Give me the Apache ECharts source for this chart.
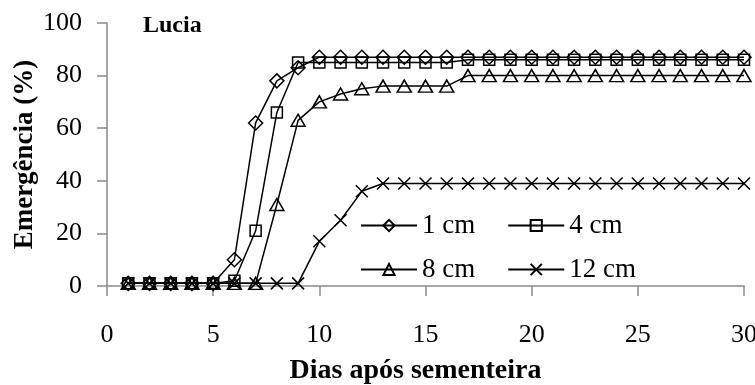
<!DOCTYPE html>
<html>
<head>
<meta charset="utf-8">
<script src="https://cdn.jsdelivr.net/npm/echarts@6/dist/echarts.min.js"></script>
<style>
  html, body { margin: 0; padding: 0; background: #fff; }
  #chart { width: 755px; height: 385px; }
</style>
</head>
<body>
<div id="chart"></div>
<script>
// Days after sowing
const days = [1,2,3,4,5,6,7,8,9,10,11,12,13,14,15,16,17,18,19,20,21,22,23,24,25,26,27,28,29,30];

// Cumulative emergence (%) by sowing depth
const depth1cm  = [1,1,1,1,1,10,62,78,83,87,87,87,87,87,87,87,87,87,87,87,87,87,87,87,87,87,87,87,87,87];
const depth4cm  = [1,1,1,1,1,2,21,66,85,85,85,85,85,85,85,85,86,86,86,86,86,86,86,86,86,86,86,86,86,86];
const depth8cm  = [1,1,1,1,1,1,1,31,63,70,73,75,76,76,76,76,80,80,80,80,80,80,80,80,80,80,80,80,80,80];
const depth12cm = [1,1,1,1,1,1,1,1,1,17,25,36,39,39,39,39,39,39,39,39,39,39,39,39,39,39,39,39,39,39];

const seriesNames = ['1 cm', '4 cm', '8 cm', '12 cm'];
const xTicks = [0, 5, 10, 15, 20, 25, 30];
const yTicks = [0, 20, 40, 60, 80, 100];

const FONT = '"Liberation Serif", "Times New Roman", serif';
const AXIS_GRAY = '#8a8a8a';

const pair = (ys) => days.map((d, i) => [d, ys[i]]);

const markerStyle = {
  color: 'rgba(255,255,255,0)',
  borderColor: '#000',
  borderWidth: 1.5
};

const crossPath = 'path://M0,0L10,10M10,0L0,10';

function makeSeries(name, values, symbol, size) {
  return {
    name: name,
    type: 'line',
    data: pair(values),
    symbol: symbol,
    symbolSize: size,
    showAllSymbol: true,
    lineStyle: { color: '#000', width: 1.5 },
    itemStyle: Object.assign({}, markerStyle),
    emphasis: { disabled: true },
    animation: false
  };
}

const chart = echarts.init(document.getElementById('chart'), null, { renderer: 'canvas' });

const legendText = { fontFamily: FONT, fontSize: 27, color: '#000' };

chart.setOption({
  backgroundColor: '#fff',
  animation: false,
  title: {
    text: 'Lucia',
    left: 138,
    top: 9,
    textStyle: { fontFamily: FONT, fontWeight: 'bold', fontSize: 24, color: '#000' }
  },
  grid: { left: 107, right: 11, top: 23, bottom: 99, containLabel: false, outerBoundsMode: 'none' },
  legend: [
    {
      data: [seriesNames[0], seriesNames[1]],
      left: 355, top: 207,
      orient: 'horizontal',
      itemWidth: 56, itemHeight: 14, itemGap: 32,
      textStyle: legendText,
      selectedMode: false
    },
    {
      data: [seriesNames[2], seriesNames[3]],
      left: 355, top: 251,
      orient: 'horizontal',
      itemWidth: 56, itemHeight: 14, itemGap: 32,
      textStyle: legendText,
      selectedMode: false
    }
  ],
  xAxis: {
    type: 'value',
    min: xTicks[0], max: xTicks[xTicks.length - 1], interval: 5,
    name: 'Dias após sementeira',
    nameLocation: 'middle',
    nameGap: 71,
    nameMoveOverlap: false,
    nameTextStyle: { fontFamily: FONT, fontWeight: 'bold', fontSize: 28, color: '#000', padding: [0, 20, 0, 0] },
    axisLine: { lineStyle: { color: AXIS_GRAY, width: 1.5 } },
    axisTick: { show: true, inside: false, length: 10, lineStyle: { color: AXIS_GRAY, width: 1.5 } },
    axisLabel: { fontFamily: FONT, fontSize: 26, color: '#000', margin: 36 },
    splitLine: { show: false }
  },
  yAxis: {
    type: 'value',
    min: yTicks[0], max: yTicks[yTicks.length - 1], interval: 20,
    name: 'Emergência (%)',
    nameLocation: 'middle',
    nameGap: 68,
    nameRotate: 90,
    nameMoveOverlap: false,
    nameTextStyle: { fontFamily: FONT, fontWeight: 'bold', fontSize: 27, color: '#000' },
    axisLine: { show: true, lineStyle: { color: AXIS_GRAY, width: 1.5 } },
    axisTick: { show: true, inside: false, length: 10, lineStyle: { color: AXIS_GRAY, width: 1.5 } },
    axisLabel: { fontFamily: FONT, fontSize: 26, color: '#000', margin: 25 },
    splitLine: { show: false }
  },
  series: [
    makeSeries(seriesNames[0], depth1cm, 'diamond', [14, 14]),
    makeSeries(seriesNames[1], depth4cm, 'rect', [11, 11]),
    makeSeries(seriesNames[2], depth8cm, 'triangle', [14, 12]),
    makeSeries(seriesNames[3], depth12cm, crossPath, [12, 12])
  ]
});
</script>
</body>
</html>
